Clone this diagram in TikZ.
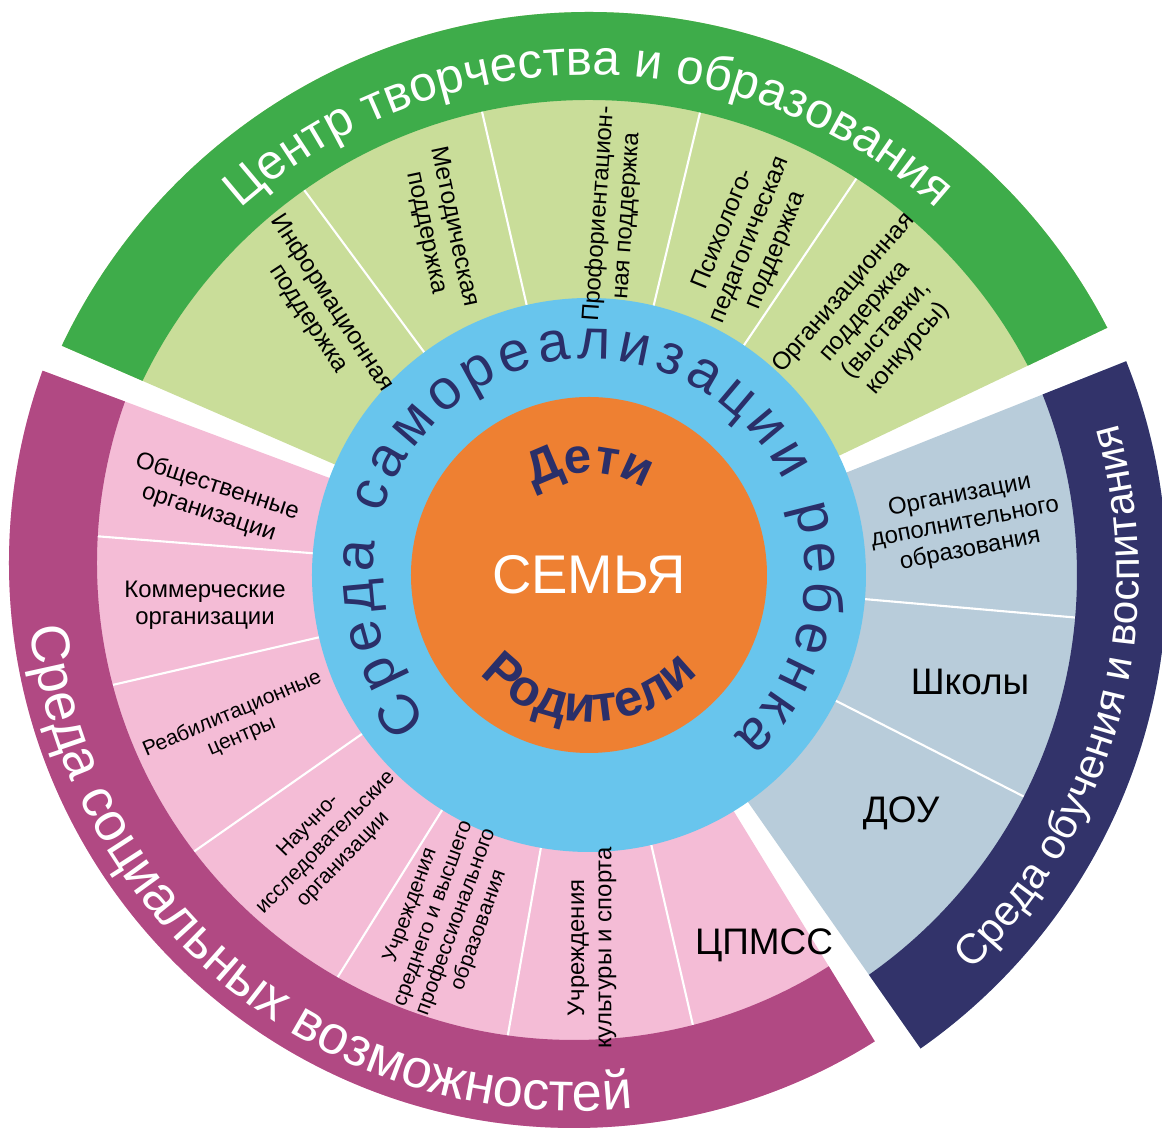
\documentclass[tikz,border=0pt]{standalone}
\usepackage{fontspec}
\setmainfont{Liberation Sans}
\usetikzlibrary{decorations.text}

\definecolor{greenDark}{RGB}{62,172,74}
\definecolor{greenLight}{RGB}{201,221,153}
\definecolor{magentaDark}{RGB}{177,73,131}
\definecolor{pinkLight}{RGB}{244,188,214}
\definecolor{navyDark}{RGB}{50,51,106}
\definecolor{steelLight}{RGB}{184,204,218}
\definecolor{ringBlue}{RGB}{104,197,237}
\definecolor{hubOrange}{RGB}{238,128,50}
\definecolor{textNavy}{RGB}{42,47,105}

\tikzset{
  sepline/.style={white, line width=0.6pt},
  grlabel/.style={font=\fontsize{7}{8}\selectfont, align=center, inner sep=0pt},
  pklabel/.style={font=\fontsize{6.8}{7.8}\selectfont, align=center, inner sep=0pt},
  smlabel/.style={font=\fontsize{6}{6.9}\selectfont, align=center, inner sep=0pt},
  biglabel/.style={font=\fontsize{10.5}{12}\selectfont, inner sep=0pt},
}

\begin{document}
\begin{tikzpicture}[x=0.01cm, y=0.01cm]
  \useasboundingbox (-589,-562) rectangle (573,575);
  \coordinate (H) at (0,0);
  \coordinate (G) at (0,-20);
  \coordinate (M) at (-15,12);

  % green sector
  \begin{scope}
    \clip (H) -- (25.5:700) arc[start angle=25.5, end angle=156.5, radius=700] -- cycle;
    \fill[greenLight] (G) circle[radius=583];
    \foreach \a in {126.5,103,76.5,56}
      \draw[sepline] (\a:270) -- (\a:520);
    \fill[greenDark, even odd rule] (G) circle[radius=583] (G) circle[radius=495];
  \end{scope}
  % magenta sector
  \begin{scope}
    \clip (H) -- (159.5:700) arc[start angle=159.5, end angle=301.5, radius=700] -- cycle;
    \fill[pinkLight] (M) circle[radius=565];
    \foreach \a in {175.5,193,215,238,260,283}
      \draw[sepline] (\a:270) -- (\a:520);
    \fill[magentaDark, even odd rule] (M) circle[radius=565] (M) circle[radius=477];
  \end{scope}
  % navy sector
  \begin{scope}
    \clip (H) -- (305:700) arc[start angle=305, end angle=381.7, radius=700] -- cycle;
    \fill[steelLight] (H) circle[radius=578];
    \foreach \a in {355,333}
      \draw[sepline] (\a:270) -- (\a:520);
    \fill[navyDark, even odd rule] (H) circle[radius=578] (H) circle[radius=488];
  \end{scope}

  % hub
  \fill[ringBlue] (H) circle[radius=277];
  \fill[hubOrange] (H) circle[radius=178];
  \node[text=white, font=\fontsize{15.5}{16}\selectfont] (family) at (H) {СЕМЬЯ};

  % ring titles
  \path[shift={(G)}, decorate, decoration={text along path, text align=center, text color=white,
      text={|\fontsize{14}{14}\selectfont|Центр творчества и образования}}]
    (150:520) arc[start angle=150, end angle=30, radius=520];
  \path[shift={(M)}, decorate, decoration={text along path, text align=center, text color=white,
      text={|\fontsize{15.4}{15.4}\selectfont|Среда социальных возможностей}}]
    (171.5:548) arc[start angle=171.5, end angle=291.5, radius=548];
  \path[decorate, decoration={text along path, text align=center, text color=white,
      text={|\fontsize{12}{12}\selectfont|Среда обучения и воспитания}}]
    (-55:550) arc[start angle=-55, end angle=25, radius=550];
  \path[decorate, decoration={text along path, text align={fit to path}, text color=textNavy,
      text={|\fontsize{16}{16}\selectfont|Среда самореализации ребенка}}]
    (222:216) arc[start angle=222, end angle=-48, radius=216];
  \path[decorate, decoration={text along path, text align=center, text color=textNavy,
      text={|\bfseries\fontsize{14}{14}\selectfont|Дети}}]
    (150:102) arc[start angle=150, end angle=30, radius=102];
  \path[decorate, decoration={text along path, text align=center, text color=textNavy,
      text={|\bfseries\fontsize{14.5}{14.5}\selectfont|Родители}}]
    (205:147) arc[start angle=205, end angle=335, radius=147];

  % green segments
  \node[grlabel, rotate=-57] (infoSup) at (-269,264) {Информационная\\поддержка};
  \node[grlabel, rotate=-78] (methSup) at (-149,345) {Методическая\\поддержка};
  \node[grlabel, rotate=86, font=\fontsize{6.8}{7.8}\selectfont] (profSup) at (24,360) {Профориентацион-\\ная поддержка};
  \node[grlabel, rotate=68] (psySup) at (161,335) {Психолого-\\педагогическая\\поддержка};
  \node[grlabel, rotate=49] (orgSup) at (287,254) {Организационная\\поддержка\\(выставки,\\конкурсы)};

  % pink segments
  \node[pklabel, rotate=-18] (pubOrg) at (-376,75) {Общественные\\организации};
  \node[pklabel] (comOrg) at (-384,-30) {Коммерческие\\организации};
  \node[smlabel, rotate=23] (rehab) at (-352,-150) {Реабилитационные\\центры};
  \node[smlabel, rotate=46] (sciOrg) at (-263,-268) {Научно-\\исследовательские\\организации};
  \node[smlabel, rotate=70] (higherEd) at (-144,-343) {Учреждения\\среднего и высшего\\профессионального\\образования};
  \node[pklabel, rotate=90] (culture) at (3,-373) {Учреждения\\культуры и спорта};
  \node[biglabel] (cpmss) at (175,-370) {ЦПМСС};

  % navy segments
  \node[pklabel, rotate=11] (addEd) at (376,52) {Организации\\дополнительного\\образования};
  \node[biglabel] (schools) at (381,-107) {Школы};
  \node[biglabel] (preschool) at (312,-238) {ДОУ};
\end{tikzpicture}
\end{document}
